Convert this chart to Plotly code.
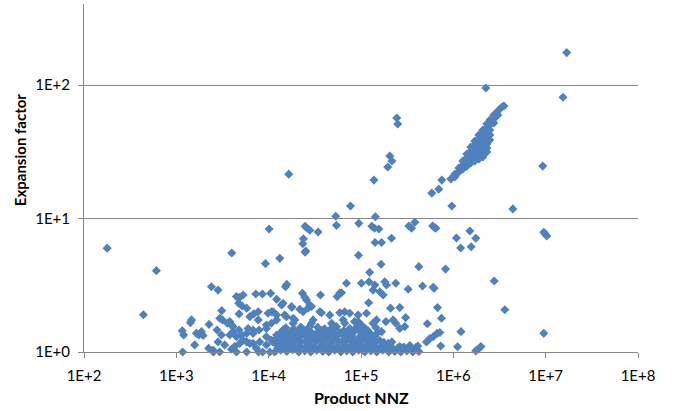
import plotly.graph_objects as go

# ---- data (Product NNZ vs Expansion factor) ----
# sparse / upper points
nnz_sparse = [178, 440, 608, 16500, 1.69e7, 2.25e6, 1.54e7, 9.3e6, 4.41e6, 9.55e6, 9.9e6, 1.03e7,
              9.55e6, 3.61e6, 2.77e6, 2.44e5, 2.50e5, 2.05e5, 2.16e5, 1.95e5, 1.38e5, 7.69e4, 5.33e4,
              1.43e5, 9.63e5, 5.85e5, 6.96e5, 7.5e5, 3.83e5, 3.30e5, 3.53e5, 5.98e5, 6.3e5, 6.46e5,
              5.42e4, 9.46e4, 1.31e5, 1.40e5, 1.56e5, 1.01e4, 2.48e4, 2.61e4, 2.79e4, 3.43e4, 2.38e4,
              2.34e4, 2.52e4, 2.48e4, 1.42e5, 1.67e5, 2.14e5, 3980, 9230, 1.32e4, 9.39e4, 1.65e5,
              1.24e5, 4.23e5, 8.23e5, 1.08e6, 1.20e6, 1.51e6, 1.75e6, 1.56e6, 1170]
exp_sparse = [6.0, 1.90, 4.07, 21.5, 175, 95, 81, 24.7, 11.8, 7.9, 7.65, 7.4,
              1.38, 2.07, 3.40, 56.6, 51.0, 29.4, 27.0, 24.3, 19.4, 12.4, 10.4,
              10.3, 12.4, 15.5, 16.6, 19.4, 9.37, 8.79, 8.45, 8.79, 8.53, 8.45,
              8.89, 9.2, 8.74, 8.45, 8.35, 8.35, 8.74, 8.45, 8.16, 7.93, 7.06,
              6.47, 5.71, 5.6, 6.61, 6.61, 7.11, 5.51, 4.59, 5.03, 5.30, 4.54,
              3.95, 4.36, 4.18, 7.14, 6.01, 8.06, 7.11, 6.15, 1.0]

# middle band of points (expansion ~1.3 - 3.4)
nnz_mid = [2400, 2830, 4480, 4860, 5280, 4740, 5150, 7250, 8560, 10500, 12200, 13800, 15200, 15700,
           17800, 23200, 24600, 25700, 36400, 55100, 61500,
           3100, 2950, 3160, 3790, 3950, 4780, 5780, 6240, 6890, 7710, 7710, 9840, 10700, 12200,
           15600, 18400, 21700, 23600, 26700, 27900, 29100, 14300, 17700, 35800, 37300, 45900,
           58900, 66700, 75600, 93000, 114700, 11200, 14900, 19200, 18400, 30300, 29100, 48000,
           49800, 64000, 66700, 93000, 101000, 135000, 147000, 1460, 1420, 2260, 1160, 1200,
           69600, 101000, 122000, 141000, 181000, 189000, 238000, 324000, 464000, 605000, 620000,
           58900, 135000, 160000, 174000, 121000, 209000, 263000, 674000, 304000, 744000, 85000,
           186000, 223000, 238000, 298000, 263000, 523000, 1.21e6, 667000, 714000, 605000, 512000,
           167000, 135000, 556000]
exp_mid = [3.08, 2.91, 2.60, 2.57, 2.67, 2.32, 2.21, 2.72, 2.72, 2.75, 2.48, 2.25, 3.08, 3.21,
           2.16, 2.75, 2.57, 2.45, 2.67, 2.60, 2.78,
           2.04, 1.79, 1.74, 1.69, 1.59, 1.93, 2.13, 1.84, 1.93, 2.00, 1.74, 1.95, 2.00, 1.89,
           1.84, 1.79, 2.09, 2.00, 2.13, 2.25, 2.19, 2.32, 2.19, 2.00, 1.97, 1.89,
           1.97, 2.00, 1.95, 1.89, 1.95, 2.00, 1.89, 1.74, 1.64, 1.74, 1.64, 1.64,
           1.59, 1.74, 1.64, 1.69, 1.59, 1.64, 1.74, 1.74, 1.66, 1.61, 1.44, 1.34,
           3.27, 3.27, 3.36, 3.18, 3.36, 3.18, 3.27, 2.95, 3.12, 3.05, 3.00,
           2.77, 2.91, 2.83, 2.67, 2.34, 2.13, 2.15, 2.15, 1.81, 1.79, 1.69,
           1.69, 1.74, 1.64, 1.55, 1.50, 1.63, 1.42, 1.38, 1.40, 1.30, 1.19,
           1.42, 1.30, 1.26]

# dense cluster close to expansion 1
nnz_low = [1650, 1760, 1950, 1580, 2240, 2520, 2950, 2760, 3080, 2830, 3580, 4120, 3790, 4290, 4480,
           4780, 5780, 6770, 7870, 9460, 5280, 6240, 7370, 7750, 9460, 10700, 12200, 14300, 16900,
           20000, 23600, 27900, 33000, 38800, 49800, 54200, 1870, 4120, 4480, 5070, 5980, 6770,
           9460, 10700, 12200, 2500, 3340, 3950, 4860, 5780, 6770, 8000, 9460, 11200, 5780, 8620,
           10300,
           11630, 13500, 15700, 18200, 21200, 24600, 28600, 33200, 38600, 44800, 52000, 60500,
           70200, 81500, 94600, 110000, 128000, 148000, 172000, 200000, 232000, 270000, 314000,
           364000, 423000,
           12550, 14900, 17800, 21700, 26500, 30800, 37600, 45900, 54700, 66700, 79500, 97000,
           112700, 137600, 172000, 205000, 263000, 338000, 412000,
           11940, 14200, 17350, 20700, 25200, 30000, 35800, 42600, 52000, 63500, 75600, 90000,
           110000, 131000, 160000,
           13500, 16100, 19700, 24000, 29300, 34900, 41500, 58900, 70200, 83500, 102000, 128000,
           152000,
           15300, 18700, 22300, 26500, 34000, 40500, 53300, 75600, 90000, 112700, 145000,
           197000, 338000, 730000, 1.11e6, 1.75e6, 1.86e6, 1.99e6,
           12550, 14580, 16930, 19660, 22840, 26500, 30800, 35800, 41500, 48300, 56000, 65100,
           75600, 87800, 102000, 118500, 137600, 159800, 185600, 215600, 250000, 291000,
           338000, 392000,
           11080, 13190, 15700, 18700, 22300, 27200, 32400, 39500, 47100, 57500, 68400, 83500,
           99500, 121500, 144600, 176600, 215600,
           12870, 15300, 18200, 22300, 27200, 32400, 38600, 47100, 56000, 66700, 79500, 97000,
           118500, 141000,
           14580, 17800, 21700, 26500, 37600, 45900, 65100, 79500, 97000, 118500]
exp_low = [1.38, 1.34, 1.33, 1.13, 1.065, 1.0, 1.0, 1.46, 1.34, 1.19, 1.64, 1.55, 1.34, 1.10, 1.0,
           1.46, 1.38, 1.46, 1.46, 1.59, 1.23, 1.16, 1.065, 1.0, 1.30, 1.23, 1.34, 1.46, 1.38,
           1.30, 1.46, 1.55, 1.38, 1.46, 1.38, 1.55, 1.42, 1.42, 1.30, 1.34, 1.50, 1.38,
           1.50, 1.64, 1.74, 1.035, 1.13, 1.05, 1.16, 1.19, 1.16, 1.19, 1.13, 1.19, 1.0, 1.0,
           1.0,
           1.00, 1.03, 1.01, 1.04, 1.00, 1.02, 1.00, 1.03, 1.01, 1.00, 1.03, 1.00,
           1.02, 1.00, 1.03, 1.00, 1.02, 1.00, 1.03, 1.00, 1.01, 1.00, 1.02,
           1.00, 1.01,
           1.12, 1.10, 1.14, 1.11, 1.13, 1.10, 1.14, 1.12, 1.10, 1.13, 1.11, 1.14,
           1.10, 1.13, 1.11, 1.14, 1.10, 1.12, 1.11,
           1.25, 1.22, 1.27, 1.24, 1.21, 1.26, 1.23, 1.27, 1.24, 1.22, 1.26, 1.23,
           1.27, 1.24, 1.22,
           1.40, 1.37, 1.41, 1.36, 1.39, 1.42, 1.37, 1.40, 1.36, 1.41, 1.38, 1.36,
           1.40,
           1.52, 1.49, 1.54, 1.50, 1.53, 1.49, 1.52, 1.50, 1.54, 1.49, 1.52,
           1.16, 1.065, 1.11, 1.095, 1.02, 1.05, 1.10,
           1.07, 1.09, 1.08, 1.06, 1.08, 1.09, 1.07, 1.08, 1.06, 1.09, 1.08, 1.07,
           1.09, 1.06, 1.08, 1.07, 1.09, 1.08, 1.06, 1.08, 1.07, 1.09,
           1.06, 1.08,
           1.19, 1.18, 1.20, 1.17, 1.19, 1.18, 1.20, 1.19, 1.17, 1.19, 1.20, 1.18,
           1.19, 1.17, 1.20, 1.18, 1.19,
           1.32, 1.31, 1.33, 1.32, 1.30, 1.33, 1.31, 1.32, 1.33, 1.31, 1.32, 1.30,
           1.33, 1.31,
           1.45, 1.44, 1.46, 1.45, 1.44, 1.46, 1.45, 1.44, 1.46, 1.45]

# diagonal streak (expansion grows with product nnz)
nnz_streak = [9.40e5,
              1.038e6, 1.038e6,
              1.147e6, 1.147e6,
              1.268e6, 1.268e6, 1.268e6,
              1.400e6, 1.400e6, 1.400e6, 1.400e6,
              1.547e6, 1.547e6, 1.547e6, 1.547e6, 1.547e6,
              1.710e6, 1.710e6, 1.710e6, 1.710e6, 1.710e6, 1.710e6,
              1.889e6, 1.889e6, 1.889e6, 1.889e6, 1.889e6, 1.889e6, 1.889e6,
              2.088e6, 2.088e6, 2.088e6, 2.088e6, 2.088e6, 2.088e6, 2.088e6, 2.088e6,
              2.307e6, 2.307e6, 2.307e6, 2.307e6, 2.307e6, 2.307e6, 2.307e6, 2.307e6,
              2.486e6, 2.486e6, 2.486e6, 2.486e6, 2.486e6,
              2.747e6, 2.747e6, 2.747e6,
              3.036e6, 3.036e6,
              3.354e6, 3.53e6]
exp_streak = [19.8,
              21.5, 20.5,
              23.9, 22.3,
              27.0, 25.2, 23.5,
              30.4, 28.4, 26.5, 24.7,
              34.3, 32.0, 29.9, 27.9, 26.1,
              38.1, 35.5, 33.2, 31.0, 28.9, 27.0,
              42.2, 39.4, 36.8, 34.3, 32.0, 29.9, 27.9,
              46.0, 43.0, 40.1, 37.4, 34.9, 32.6, 30.4, 28.9,
              51.0, 47.6, 44.5, 41.5, 38.7, 36.2, 33.7, 31.5,
              54.7, 50.2, 46.0, 42.2, 38.7,
              59.6, 55.6, 51.9,
              63.9, 59.6,
              68.4, 69.6]

x_tick_values = [1e2, 1e3, 1e4, 1e5, 1e6, 1e7, 1e8]
x_tick_labels = ["1E+2", "1E+3", "1E+4", "1E+5", "1E+6", "1E+7", "1E+8"]
y_tick_values = [1, 10, 100]
y_tick_labels = ["1E+0", "1E+1", "1E+2"]
x_title = "Product NNZ"
y_title = "Expansion factor"

nnz = nnz_sparse + nnz_mid + nnz_low + nnz_streak
expansion = exp_sparse + exp_mid + exp_low + exp_streak

AXIS = "#868686"
FONT = "Lato, 'Open Sans', sans-serif"

fig = go.Figure(go.Scatter(
    x=nnz, y=expansion, mode="markers", cliponaxis=False,
    marker=dict(symbol="diamond", size=7, color="#4F81BD", line=dict(width=0)),
))

fig.update_layout(
    width=678, height=411,
    margin=dict(l=84, r=40, t=4, b=59),
    paper_bgcolor="white", plot_bgcolor="white",
    showlegend=False,
    font=dict(family=FONT, size=15, color="#000000"),
)
fig.update_xaxes(
    type="log", range=[2, 8],
    tickvals=x_tick_values, ticktext=x_tick_labels,
    showline=True, linecolor=AXIS, linewidth=1,
    ticks="outside", ticklen=5, tickcolor=AXIS, tickwidth=1,
    showgrid=False, zeroline=False, ticklabelstandoff=5,
)
fig.update_yaxes(
    type="log", range=[0, 2.607],
    tickvals=y_tick_values, ticktext=y_tick_labels,
    showline=True, linecolor=AXIS, linewidth=1,
    ticks="outside", ticklen=5, tickcolor=AXIS, tickwidth=1,
    showgrid=True, gridcolor=AXIS, gridwidth=1, zeroline=False,
    ticklabelstandoff=5,
)
fig.add_annotation(
    text=x_title, xref="paper", yref="paper", x=0.5, y=-0.132,
    showarrow=False, font=dict(family=FONT, size=16, weight="bold"),
    xanchor="center", yanchor="middle",
)
fig.add_annotation(
    text=y_title, xref="paper", yref="paper", x=-0.1155, y=0.58,
    showarrow=False, textangle=-90, font=dict(family=FONT, size=15, weight="bold"),
    xanchor="center", yanchor="middle",
)

fig.write_html("out.html")
